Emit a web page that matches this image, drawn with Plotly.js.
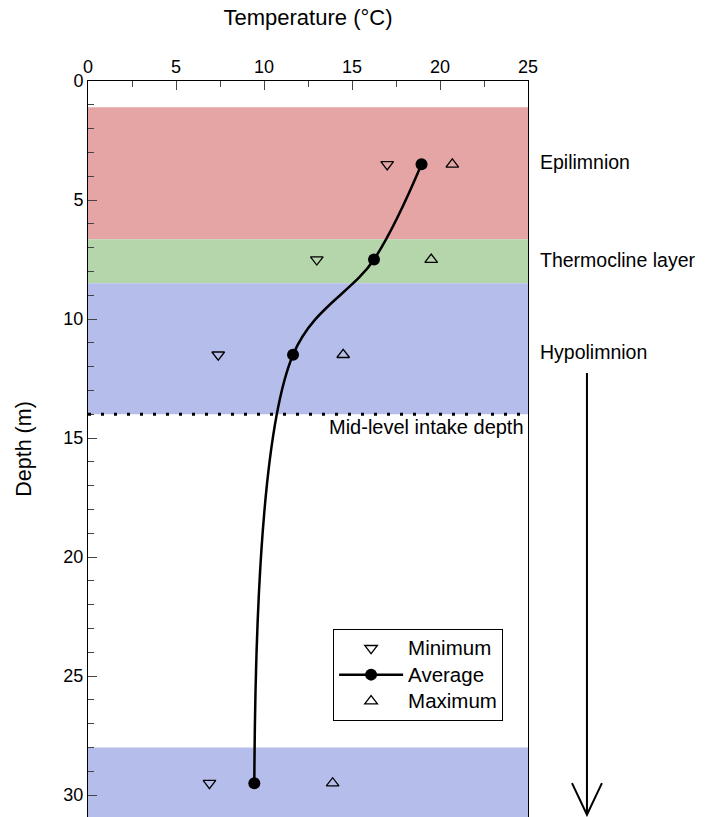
<!DOCTYPE html>
<html>
<head>
<meta charset="utf-8">
<script src="https://cdn.plot.ly/plotly-3.0.1.min.js"></script>
<style>html,body{margin:0;padding:0;background:#fff}#chart{width:705px;height:817px}</style>
</head>
<body>
<div id="chart"></div>
<script>
// ---- data ----
const depth = [3.5, 7.5, 11.5, 29.5];
const tMin = [17.0, 13.0, 7.4, 6.9];
const tAvg = [18.95, 16.25, 11.65, 9.45];
const tMax = [20.7, 19.5, 14.5, 13.9];
const seriesNames = ['Minimum', 'Average', 'Maximum'];
const epilimnion = [1.1, 6.65];
const thermocline = [6.65, 8.5];
const hypolimnion = [8.5, 14];
const bottomBand = [28, 31];
const intakeDepth = 14;
const layerLabels = ['Epilimnion', 'Thermocline layer', 'Hypolimnion'];
const layerLabelDepth = [3.4, 7.5, 11.4];
const intakeLabel = 'Mid-level intake depth';
const xTicks = [0, 5, 10, 15, 20, 25];
const yTicks = [0, 5, 10, 15, 20, 25, 30];

const FONT = 'Liberation Sans, Arial, sans-serif';
const legName = n => '<span style="font-size:20.5px">' + n + '</span>';

const traces = [
  {x: tMin, y: depth, name: legName(seriesNames[0]), mode: 'markers', type: 'scatter',
   marker: {symbol: 'triangle-down-open', size: 11, color: '#000', line: {width: 1.3, color: '#000'}}},
  {x: tAvg, y: depth, name: legName(seriesNames[1]), mode: 'lines+markers', type: 'scatter',
   line: {shape: 'spline', smoothing: 1, color: '#000', width: 2.5},
   marker: {symbol: 'circle', size: 12, color: '#000'}},
  {x: tMax, y: depth, name: legName(seriesNames[2]), mode: 'markers', type: 'scatter',
   marker: {symbol: 'triangle-up-open', size: 11, color: '#000', line: {width: 1.3, color: '#000'}}}
];

function band(r, color) {
  return {type: 'rect', xref: 'x domain', yref: 'y', x0: 0, x1: 1, y0: r[0], y1: r[1],
          fillcolor: color, line: {width: 0}, layer: 'below'};
}

const shapes = [
  band(epilimnion, '#e6a5a5'),
  band(thermocline, '#b5d5ab'),
  band(hypolimnion, '#b5bdeb'),
  band(bottomBand, '#b5bdeb'),
  {type: 'line', xref: 'x domain', yref: 'y', x0: 0, x1: 1, y0: intakeDepth, y1: intakeDepth,
   line: {color: '#000', width: 3, dash: '3px,10px'}},
  // downward arrow (decorative)
  {type: 'line', xref: 'paper', yref: 'paper', x0: 1.134, x1: 1.134, y0: 0.6033, y1: 0.004,
   line: {color: '#000', width: 2}},
  {type: 'path', xref: 'paper', yref: 'paper',
   path: 'M 1.100 0.046 L 1.134 0.003 L 1.168 0.046',
   line: {color: '#000', width: 2}}
];

const annotations = layerLabels.map((t, i) => ({
  text: t, xref: 'paper', yref: 'y', x: 1.022, y: layerLabelDepth[i],
  xanchor: 'left', yanchor: 'middle', showarrow: false,
  font: {family: FONT, size: 19.5, color: '#000'}
}));
annotations.push({
  text: intakeLabel, xref: 'paper', yref: 'y', x: 0.996, y: intakeDepth,
  xanchor: 'right', yanchor: 'top', yshift: 0, showarrow: false,
  font: {family: FONT, size: 20, color: '#000'}
});

const layout = {
  width: 705, height: 817,
  margin: {l: 88, r: 177, t: 81, b: 0, pad: 0},
  paper_bgcolor: '#fff', plot_bgcolor: 'rgba(0,0,0,0)',
  font: {family: FONT, size: 18, color: '#000'},
  showlegend: true,
  legend: {
    x: 0.557, y: 0.2554, xanchor: 'left', yanchor: 'top',
    bordercolor: '#000', borderwidth: 1, bgcolor: 'rgba(255,255,255,0)',
    font: {family: FONT, size: 18, color: '#000'},
    itemwidth: 64, tracegroupgap: 0
  },
  xaxis: {
    side: 'top', range: [0, 25], tickvals: xTicks, ticks: 'inside', ticklen: 9, tickwidth: 1,
    minor: {dtick: 2.5, ticks: 'inside', ticklen: 6, tickwidth: 1, showgrid: false},
    showline: true, linecolor: '#000', linewidth: 1, mirror: false,
    showgrid: false, zeroline: false,
    title: {text: 'Temperature (°C)', font: {family: FONT, size: 22, color: '#000'}, standoff: 25},
    tickfont: {family: FONT, size: 18, color: '#000'}
  },
  yaxis: {
    range: [30.92, 0], tickvals: yTicks, ticks: 'inside', ticklen: 9, tickwidth: 1,
    minor: {dtick: 1, ticks: 'inside', ticklen: 6, tickwidth: 1, showgrid: false},
    showline: true, linecolor: '#000', linewidth: 1, mirror: true,
    showgrid: false, zeroline: false,
    title: {text: 'Depth (m)', font: {family: FONT, size: 21.5, color: '#000'}, standoff: 25},
    tickfont: {family: FONT, size: 18, color: '#000'}
  },
  shapes: shapes,
  annotations: annotations
};

Plotly.newPlot('chart', traces, layout, {displayModeBar: false, staticPlot: true});
</script>
</body>
</html>
